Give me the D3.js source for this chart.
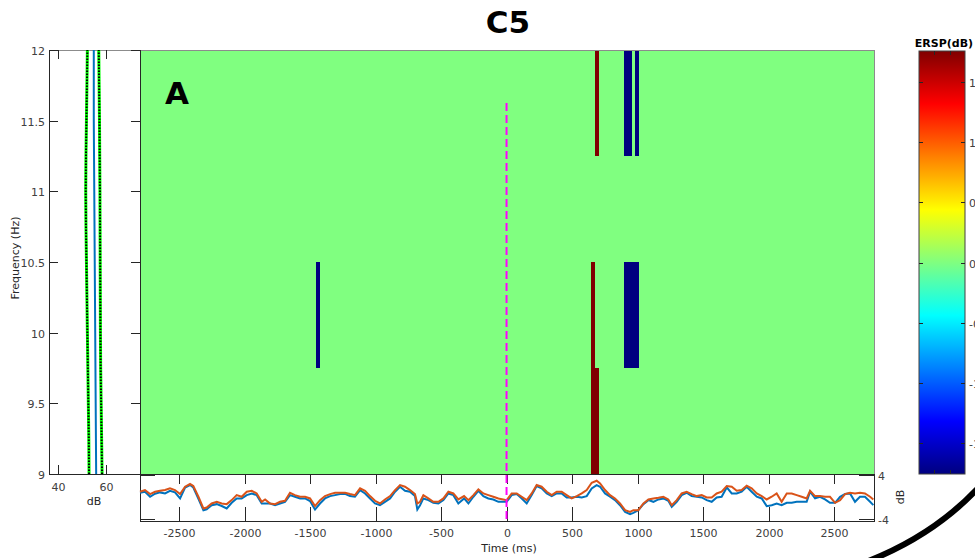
<!DOCTYPE html>
<html><head><meta charset="utf-8">
<script src="https://cdn.jsdelivr.net/npm/d3@7"></script>
<style>body{margin:0;background:#fff}svg{display:block;font-family:"DejaVu Sans",sans-serif}</style>
</head><body><svg id="c" width="975" height="558"></svg>
<script>
// ---------- data ----------
const freqTicks = [9, 9.5, 10, 10.5, 11, 11.5, 12];
const timeTicks = [-2500, -2000, -1500, -1000, -500, 0, 500, 1000, 1500, 2000, 2500];
const dbTicks = [40, 60];
const cbarTicks = [-1.5, -1, -0.5, 0, 0.5, 1, 1.5];
const cbarTickLabels = ["-1.5", "-1", "-0.5", "0", "0.5", "1", "1.5"];
const ersTicks = [-4, 4];
const clim = 1.76;

// significant ERSP cells: time start/end (ms), freq low/high (Hz), value (dB)
const cellT0 = [-1454, 676, 897, 981, 645, 645, 897];
const cellT1 = [-1424, 706, 958, 1011, 676, 706, 1011];
const cellF0 = [9.75, 11.25, 11.25, 11.25, 9.75, 9, 9.75];
const cellF1 = [10.5, 12, 12, 12, 10.5, 9.75, 10.5];
const cellV = [-1.76, 1.76, -1.76, -1.76, 1.76, 1.76, -1.76];

// baseline spectrum (left panel)
const specFreqs = [9, 9.25, 9.5, 9.75, 10, 10.25, 10.5, 10.75, 11, 11.25, 11.5, 11.75, 12];
const specMean = [55.9, 55.8, 55.7, 55.6, 55.5, 55.4, 55.3, 55.2, 55.1, 55.0, 54.9, 54.9, 54.9];
const specLow = [52.9, 52.8, 52.6, 52.4, 52.2, 52.0, 51.8, 51.6, 51.5, 51.6, 51.8, 52.0, 52.2];
const specHigh = [58.4, 58.2, 58.0, 57.8, 57.7, 57.65, 57.6, 57.55, 57.5, 57.4, 57.3, 57.15, 57.0];

// ERSP time course (bottom panel)
const ersTimes = [-2798,-2760,-2721,-2683,-2645,-2607,-2569,-2531,-2492,-2454,-2416,-2391,-2352,-2314,-2289,-2251,-2212,-2174,-2136,-2098,-2060,-2022,-1983,-1945,-1907,-1869,-1843,-1805,-1767,-1729,-1691,-1653,-1615,-1576,-1538,-1500,-1462,-1424,-1386,-1347,-1309,-1271,
-1233,-1195,-1157,-1118,-1080,-1042,-1004,-966,-928,-889,-851,-813,-775,-737,-699,-681,-660,-635,-597,-559,-520,-482,-444,-406,-368,-324,-291,-253,-215,-177,-139,-101,-62,
1,39,78,116,154,192,230,268,307,345,383,421,459,497,536,574,612,650,688,714,752,790,828,866,905,943,968,1006,1045,1083,1121,1159,1197,1235,1261,1299,1337,1375,1413,1452,1490,1528,1566,1604,1642,1681,1719,1757,1795,1833,1871,1910,1948,1986,2024,2062,2100,2139,2177,2215,2253,2291,2317,2355,2393,2431,2469,2508,2546,2584,2622,2660,2698,2736,2775,2800];
const ersOrange = [0.92,1.23,0.49,0.92,1.10,1.23,1.54,1.23,0.49,1.84,2.34,1.97,0.0,-2.16,-1.98,-1.24,-0.93,-1.24,-1.36,-0.62,0.30,0.0,0.92,1.10,0.61,-0.93,-0.50,-1.24,-1.36,-0.93,-0.74,0.73,0.30,0.0,0.0,-0.31,-1.73,-0.62,0.12,0.49,0.73,0.73,
0.73,0.49,0.30,1.54,1.10,0.12,-0.74,-1.24,-0.50,0.12,1.23,2.15,1.84,1.23,0.49,-1.24,-0.93,0.30,-0.31,-0.93,-0.93,-0.31,0.92,0.61,-0.50,0.12,-0.62,0.30,1.35,0.61,0.30,0.0,-0.31,
-0.62,0.61,0.61,0.0,-0.62,0.61,2.15,1.84,0.92,0.30,0.92,0.92,0.30,-0.31,0.12,0.61,1.23,2.58,2.95,2.46,1.23,0.30,-0.31,-1.24,-2.47,-2.78,-2.47,-2.47,-1.24,-0.50,-0.31,-0.19,0.0,-0.50,-1.55,-0.62,0.61,0.92,0.49,0.12,0.30,-0.13,-0.13,0.61,0.92,1.97,1.84,1.10,1.23,2.03,1.54,0.61,0.12,-0.50,0.0,0.61,-0.93,0.61,0.61,0.30,0.0,-0.31,1.10,0.12,0.12,0.0,0.0,-1.11,-0.62,0.49,0.73,0.61,0.73,0.61,0.0,-0.50];
const ersBlue = [0.73,0.92,0.0,0.55,0.80,0.61,1.10,0.80,-0.31,1.70,2.15,1.70,-0.40,-2.47,-2.30,-1.55,-1.36,-1.70,-2.16,-1.10,-0.31,-0.31,0.30,0.61,0.30,-1.24,-1.24,-1.24,-1.55,-1.24,-0.93,0.30,0.0,-0.31,-0.31,-0.80,-2.35,-1.24,-0.31,0.12,0.30,0.49,
0.55,0.12,0.0,1.23,0.61,-0.31,-1.24,-1.55,-0.93,-0.31,0.92,1.84,1.10,0.92,0.12,-2.35,-1.55,-0.31,-0.62,-1.10,-1.24,-0.62,0.61,0.30,-1.24,-0.31,-1.24,0.0,1.10,0.12,-0.31,-0.50,-0.93,
-0.93,0.30,0.49,-0.31,-1.24,0.30,1.97,1.54,0.61,0.12,0.61,0.61,-0.13,-0.13,0.0,-0.13,0.12,1.54,2.15,1.84,0.61,0.0,-0.62,-1.55,-2.78,-3.21,-2.96,-2.47,-1.36,-0.62,-0.93,-0.50,-0.31,-0.74,-1.85,-0.93,0.30,0.73,0.12,0.0,-0.13,-0.62,-0.93,-0.13,0.0,1.72,0.61,0.61,0.92,1.84,0.92,0.0,-0.31,-1.73,-1.55,-1.24,-1.55,-1.11,-1.11,-0.93,-0.93,-0.93,0.92,-0.31,0.0,-0.50,-1.11,-1.11,0.0,0.49,0.61,-0.93,0.0,0.0,-0.93,-1.55];

// ---------- drawing ----------
const svg = d3.select("#c");
const tickCol = "#262626", labCol = "#404040";

const jet = d3.scaleLinear()
  .domain([0, 0.125, 0.375, 0.625, 0.875, 1])
  .range(["#000080", "#0000ff", "#00ffff", "#ffff00", "#ff0000", "#800000"])
  .clamp(true);
const color = v => jet((v + clim) / (2 * clim));

// main heatmap
const mL = 140, mR = 874, mT = 50, mB = 474;
const xT = d3.scaleLinear().domain([-2798, 2805]).range([mL, mR]);
const yF = d3.scaleLinear().domain([9, 12]).range([mB, mT]);

svg.append("rect").attr("x", mL).attr("y", mT).attr("width", mR - mL).attr("height", mB - mT).attr("fill", color(0));
const cells = cellV.map((v, i) => ({t0: cellT0[i], t1: cellT1[i], f0: cellF0[i], f1: cellF1[i], v}));
svg.append("g").selectAll("rect").data(cells).join("rect")
  .attr("x", d => xT(d.t0)).attr("width", d => xT(d.t1) - xT(d.t0))
  .attr("y", d => yF(d.f1)).attr("height", d => yF(d.f0) - yF(d.f1))
  .attr("fill", d => color(d.v)).attr("shape-rendering", "crispEdges");
svg.append("line").attr("x1", mL).attr("x2", mR).attr("y1", mT + 0.5).attr("y2", mT + 0.5).attr("stroke", "#8c8c8c");
svg.append("line").attr("x1", mR + 0.5).attr("x2", mR + 0.5).attr("y1", mT).attr("y2", mB).attr("stroke", "#8c8c8c");

// "A" label
svg.append("text").attr("x", 165).attr("y", 104).attr("font-size", 31).attr("font-weight", "bold").text("A");
// title
svg.append("text").attr("x", 508).attr("y", 33).attr("text-anchor", "middle").attr("font-size", 31).attr("font-weight", "bold").text("C5");

// left spectrum panel
const lL = 49, lR = 140;
const xDb = d3.scaleLinear().domain([36, 74.4]).range([lL, lR]);
const lp = svg.append("g");
lp.append("rect").attr("x", lL + 0.5).attr("y", mT + 0.5).attr("width", lR - lL).attr("height", mB - mT).attr("fill", "none").attr("stroke", tickCol).attr("stroke-width", 1);
lp.append("line").attr("x1", lL).attr("x2", lR).attr("y1", mT + 0.5).attr("y2", mT + 0.5).attr("stroke", "#8c8c8c");
freqTicks.forEach(f => {
  const y = Math.round(yF(f)) + 0.5;
  lp.append("line").attr("x1", lL).attr("x2", lL + 9).attr("y1", y).attr("y2", y).attr("stroke", tickCol);
  lp.append("line").attr("x1", lR - 9).attr("x2", lR).attr("y1", y).attr("y2", y).attr("stroke", tickCol);
  lp.append("text").attr("x", lL - 4).attr("y", y + 4).attr("text-anchor", "end").attr("font-size", 11).attr("fill", labCol).text(f);
});
dbTicks.forEach(d => {
  const x = Math.round(xDb(d)) + 0.5;
  lp.append("line").attr("x1", x).attr("x2", x).attr("y1", mB - 9).attr("y2", mB).attr("stroke", tickCol);
  lp.append("line").attr("x1", x).attr("x2", x).attr("y1", mT).attr("y2", mT + 9).attr("stroke", tickCol);
  lp.append("text").attr("x", x).attr("y", mB + 17).attr("text-anchor", "middle").attr("font-size", 11).attr("fill", labCol).text(d);
});
lp.append("text").attr("x", 94).attr("y", 505).attr("text-anchor", "middle").attr("font-size", 11).attr("fill", tickCol).text("dB");
lp.append("text").attr("transform", "translate(19,258) rotate(-90)").attr("text-anchor", "middle").attr("font-size", 11).attr("fill", tickCol).text("Frequency (Hz)");

const specLine = arr => d3.line().x((d, i) => xDb(arr[i])).y((d, i) => yF(specFreqs[i]))(specFreqs);
[specLow, specHigh].forEach(arr => {
  lp.append("path").attr("d", specLine(arr)).attr("fill", "none").attr("stroke", "#00ff00").attr("stroke-width", 3);
  lp.append("path").attr("d", specLine(arr)).attr("fill", "none").attr("stroke", "#000").attr("stroke-width", 2).attr("stroke-dasharray", "1.5,1.5");
});
lp.append("path").attr("d", specLine(specMean)).attr("fill", "none").attr("stroke", "#0072bd").attr("stroke-width", 2);

// bottom time-course panel
const bT = 474, bB = 521;
const yE = d3.scaleLinear().domain([-4, 4]).range([518.5, 475]);
const bp = svg.append("g");
bp.append("rect").attr("x", mL + 0.5).attr("y", bT + 0.5).attr("width", mR - mL).attr("height", bB - bT).attr("fill", "#fff").attr("stroke", tickCol);
timeTicks.forEach(t => {
  const x = Math.round(xT(t)) + 0.5;
  bp.append("line").attr("x1", x).attr("x2", x).attr("y1", bT).attr("y2", bT + 10).attr("stroke", tickCol);
  bp.append("line").attr("x1", x).attr("x2", x).attr("y1", bB - 14).attr("y2", bB).attr("stroke", tickCol);
  bp.append("text").attr("x", x).attr("y", 537).attr("text-anchor", "middle").attr("font-size", 11).attr("fill", labCol).text(t);
});
ersTicks.forEach(v => {
  const y = Math.round(yE(v)) + 0.5;
  bp.append("line").attr("x1", mL).attr("x2", mL + 15).attr("y1", y).attr("y2", y).attr("stroke", tickCol);
  bp.append("line").attr("x1", mR - 15).attr("x2", mR).attr("y1", y).attr("y2", y).attr("stroke", tickCol);
  bp.append("text").attr("x", mR + 4).attr("y", y + 4).attr("font-size", 11).attr("fill", labCol).text(v);
});
bp.append("text").attr("transform", "translate(904,497) rotate(-90)").attr("text-anchor", "middle").attr("font-size", 11).attr("fill", tickCol).text("dB");
bp.append("text").attr("x", 509).attr("y", 552).attr("text-anchor", "middle").attr("font-size", 11).attr("fill", tickCol).text("Time (ms)");

const ersLine = arr => d3.line().x((d, i) => xT(ersTimes[i])).y((d, i) => yE(arr[i]))(ersTimes);
bp.append("path").attr("d", ersLine(ersBlue)).attr("fill", "none").attr("stroke", "#0072bd").attr("stroke-width", 2);
bp.append("path").attr("d", ersLine(ersOrange)).attr("fill", "none").attr("stroke", "#d95319").attr("stroke-width", 2);

// stimulus onset line
svg.append("line").attr("x1", xT(0)).attr("x2", xT(0)).attr("y1", 103).attr("y2", bB)
  .attr("stroke", "#ff00ff").attr("stroke-width", 2).attr("stroke-dasharray", "8,4");

// colorbar
const cL = 919, cR = 965, cT = 51, cB = 474;
const yC = d3.scaleLinear().domain([-clim, clim]).range([cB, cT]);
const grad = svg.append("defs").append("linearGradient").attr("id", "jetg").attr("x1", 0).attr("x2", 0).attr("y1", 1).attr("y2", 0);
d3.range(0, 1.0001, 0.025).forEach(p => grad.append("stop").attr("offset", p).attr("stop-color", jet(p)));
svg.append("rect").attr("x", cL).attr("y", cT).attr("width", cR - cL).attr("height", cB - cT).attr("fill", "url(#jetg)").attr("stroke", "#404040");
cbarTicks.forEach((v, i) => {
  const y = Math.round(yC(v)) + 0.5;
  svg.append("line").attr("x1", cL).attr("x2", cL + 4).attr("y1", y).attr("y2", y).attr("stroke", tickCol);
  svg.append("line").attr("x1", cR - 4).attr("x2", cR).attr("y1", y).attr("y2", y).attr("stroke", tickCol);
  svg.append("text").attr("x", 969).attr("y", y + 4).attr("font-size", 11).attr("fill", labCol).text(cbarTickLabels[i]);
});
[934, 950].forEach(x => {
  svg.append("line").attr("x1", x + 0.5).attr("x2", x + 0.5).attr("y1", cT).attr("y2", cT + 4).attr("stroke", tickCol);
  svg.append("line").attr("x1", x + 0.5).attr("x2", x + 0.5).attr("y1", cB - 4).attr("y2", cB).attr("stroke", tickCol);
});
svg.append("text").attr("x", 944).attr("y", 47).attr("text-anchor", "middle").attr("font-size", 11).attr("font-weight", "bold").text("ERSP(dB)");

// decorative arc at bottom right
const arc = d3.path();
arc.moveTo(866, 562);
arc.quadraticCurveTo(935, 535, 980, 486);
svg.append("path").attr("d", arc.toString()).attr("fill", "none").attr("stroke", "#000").attr("stroke-width", 6);
</script>
</body></html>
